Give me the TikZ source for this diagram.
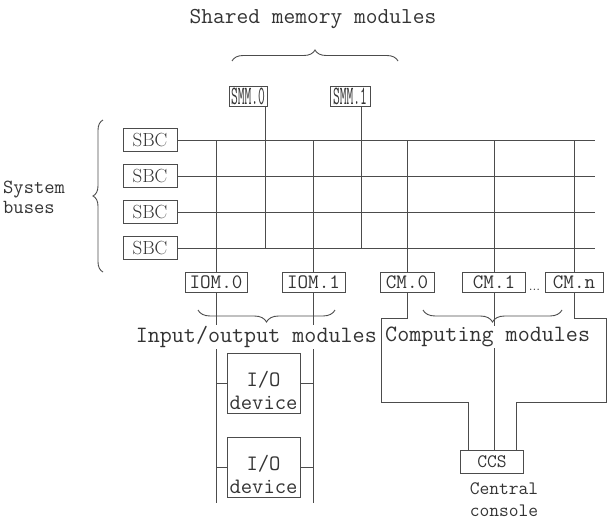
\documentclass[tikz,border=0pt]{standalone}
\usepackage{fontspec}
\usetikzlibrary{decorations.pathreplacing}
\tikzset{
  ln/.style={draw=black!70, line width=0.9pt},
  bx/.style={draw=black!70, line width=0.9pt, inner sep=0pt, text=black!80, minimum height=20pt, font=\fontsize{20.5}{22}\selectfont\ttfamily},
  sbcbox/.style={bx, minimum width=54pt, minimum height=23pt, font=\fontsize{19}{20}\selectfont\rmfamily},
  smmbox/.style={bx, minimum height=20pt, font=\fontsize{22}{22}\selectfont\ttfamily},
  devbox/.style={bx, minimum width=73pt, minimum height=60pt},
  lbl/.style={text=black!80, inner sep=1pt},
  brc/.style={ln, decorate, decoration={brace, amplitude=#1}},
}
\begin{document}
\begin{tikzpicture}[x=1pt, y=-1pt]
\useasboundingbox (0,0) rectangle (608,525);

% title and top brace
\node[lbl, font=\fontsize{22.8}{24}\selectfont\ttfamily] (title) at (313,19) {Shared memory modules};
\coordinate (tb1) at (232,61);
\coordinate (tb2) at (398,61);
\draw[brc=11pt] (tb1) -- (tb2);

% shared memory modules
\node[smmbox, minimum width=38pt] (smm0) at (248,96) {\scalebox{0.6}[1.2]{SMM.0}};
\node[smmbox, minimum width=40pt] (smm1) at (350,96) {\scalebox{0.6}[1.2]{SMM.1}};

% system bus controllers
\node[sbcbox] (sbc1) at (150,140) {SBC};
\node[sbcbox] (sbc2) at (150,176) {SBC};
\node[sbcbox] (sbc3) at (150,212) {SBC};
\node[sbcbox] (sbc4) at (150,248) {SBC};

% left brace and label
\coordinate (lb1) at (103,272);
\coordinate (lb2) at (103,120);
\draw[brc=10pt] (lb1) -- (lb2);
\node[lbl, anchor=west, align=left, font=\fontsize{20}{20}\selectfont\ttfamily] (sys) at (2,197) {System\\buses};

% modules row
\node[bx, minimum width=62pt] (iom0) at (216,282.5) {IOM.0};
\node[bx, minimum width=63pt] (iom1) at (313.5,282.5) {IOM.1};
\node[bx, minimum width=54pt] (cm0) at (407,282.5) {CM.0};
\node[bx, minimum width=63pt] (cm1) at (494,282.5) {CM.1};
\node[inner sep=0pt, anchor=base, text=black!80, font=\fontsize{14}{14}\selectfont\rmfamily] (dots) at (534.5,290) {...};
\node[bx, minimum width=58pt] (cmn) at (574,282.5) {CM.n};

% buses
\coordinate (busend) at (595,0);
\foreach \b in {sbc1,sbc2,sbc3,sbc4}
  \draw[ln] (\b.east) -- (\b.east -| busend);

% SMM lines
\coordinate (s0x) at (265,0);
\coordinate (s1x) at (361,0);
\draw[ln] (smm0.south -| s0x) -- (s0x |- sbc4.east);
\draw[ln] (smm1.south -| s1x) -- (s1x |- sbc4.east);

% module lines up to bus 1
\foreach \m in {iom0,iom1,cm0,cm1,cmn}
  \draw[ln] (\m.north |- sbc1.east) -- (\m.north);

% I/O devices
\node[devbox] (dev1) at (263.5,383) {};
\node[devbox] (dev2) at (263.5,467) {};
\coordinate (iobot) at (0,503);
\draw[ln] (iom0.south) -- (iom0.south |- iobot);
\draw[ln] (iom1.south) -- (iom1.south |- iobot);
\draw[ln] (dev1.west) -- (dev1.west -| iom0.south);
\draw[ln] (dev1.east) -- (dev1.east -| iom1.south);
\draw[ln] (dev2.west) -- (dev2.west -| iom0.south);
\draw[ln] (dev2.east) -- (dev2.east -| iom1.south);
\node[lbl, align=center, font=\fontsize{22}{23}\selectfont\ttfamily] (dev1t) at ([yshift=-7pt]dev1.center) {I/O\\device};
\node[lbl, align=center, font=\fontsize{22}{23}\selectfont\ttfamily] (dev2t) at ([yshift=-7pt]dev2.center) {I/O\\device};

% central console
\node[bx, minimum width=63pt, minimum height=23pt, font=\fontsize{19}{20}\selectfont\ttfamily] (ccs) at (492,461.5) {CCS};
\coordinate (c0a) at (381,318);
\coordinate (c0b) at (381,402);
\coordinate (cna) at (606,318);
\coordinate (cnb) at (606,402);
\draw[ln] (cm0.south) |- (c0a) -- (c0b) -| ([xshift=-24pt]ccs.north);
\draw[ln] (cm1.south) -- (cm1.south |- ccs.north);
\draw[ln] (cmn.south) |- (cna) -- (cnb) -| ([xshift=24pt]ccs.north);
\node[lbl, align=center, font=\fontsize{19}{22}\selectfont\ttfamily] (cc) at (504,500) {Central\\console};

% lower braces
\coordinate (ib1) at (335,310);
\coordinate (ib2) at (198,310);
\draw[brc=12pt] (ib1) -- (ib2);
\coordinate (cb1) at (562,310);
\coordinate (cb2) at (423,310);
\draw[brc=12pt] (cb1) -- (cb2);

% group labels
\node[lbl, anchor=east, fill=white, font=\fontsize{23.4}{24}\selectfont\ttfamily] (iolab) at (378,337) {Input/output modules};
\node[lbl, anchor=west, fill=white, font=\fontsize{23.4}{24}\selectfont\ttfamily] (cmlab) at (384,337) {Computing modules};
\end{tikzpicture}
\end{document}
